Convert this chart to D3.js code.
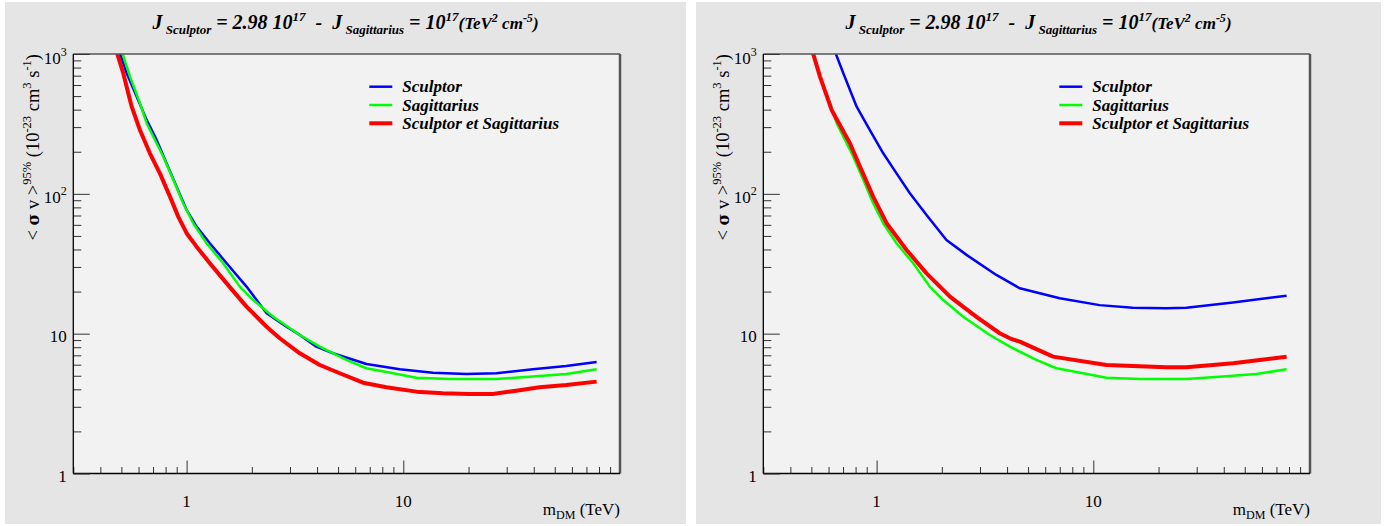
<!DOCTYPE html>
<html><head><meta charset="utf-8">
<script src="https://cdn.jsdelivr.net/npm/d3@7"></script>
<style>body{margin:0;background:#fff}svg{display:block}</style>
</head><body>
<script>
// ---------------- data ----------------
// Left panel
const sculptorMassA  = [0.493,0.529,0.588,0.654,0.727,0.809,0.899,1.0,1.112,1.28,1.53,1.89,2.34,2.89,3.33,3.97,4.74,6.76,9.63,13.7,19.5,26.9,39.6,56.5,78];
const sculptorSigmaA = [1000,729,496,338,243,165,112.6,76.7,58.3,44.3,31.9,21.7,14.0,11.2,9.8,8.07,7.24,6.07,5.56,5.26,5.15,5.21,5.56,5.87,6.28];
const combinedMassA  = [0.479,0.510,0.558,0.609,0.677,0.753,0.838,0.915,1.0,1.112,1.28,1.53,1.89,2.34,2.69,3.33,4.12,5.09,6.52,8.36,11.5,15.2,20.2,25.9,33.2,42.5,56.5,78];
const combinedSigmaA = [1000,729,420,286,195,140,95.5,68.7,52.3,41.9,31.9,22.9,15.6,11.2,9.27,7.24,5.97,5.21,4.46,4.14,3.85,3.75,3.70,3.70,3.91,4.14,4.30,4.54];
// Sagittarius curve (same in both panels)
const sagittariusMass  = [0.507,0.548,0.609,0.654,0.727,0.780,0.868,0.964,1.073,1.236,1.475,1.76,2.03,2.51,3.33,4.12,5.46,6.76,8.97,11.5,16.4,26.9,39.6,56.5,78];
const sagittariusSigma = [1000,689,445,320,230,185,126,85.7,61.6,44.3,31.9,21.7,17.4,13.2,9.79,8.07,6.49,5.66,5.21,4.84,4.74,4.74,4.93,5.15,5.56];
// Right panel
const sculptorMassB  = [0.649,0.702,0.809,0.931,1.073,1.236,1.424,1.70,2.10,2.60,3.57,4.58,7.0,10.7,15.2,21.7,26.9,44.1,78];
const sculptorSigmaB = [1000,729,420,286,195,140,101,70.6,46.8,36.6,26.3,21.1,17.9,16.0,15.35,15.2,15.35,16.7,18.7];
const combinedMassB  = [0.510,0.548,0.620,0.753,0.838,0.964,1.112,1.375,1.70,2.18,2.89,3.70,4.12,4.58,6.52,11.5,21.7,26.9,44.1,78];
const combinedSigmaB = [1000,689,398,230,156.5,95.5,61.6,39.7,27.0,18.4,13.2,10.07,9.27,8.77,6.85,5.97,5.75,5.75,6.14,6.85];

const xDomain = [0.3, 100];
const yDomain = [1, 1000];
const xTickValues = [1, 10];
const xTickLabels = ["1", "10"];
const yTickValues = [1, 10, 100, 1000];
const yTickBases = ["1", "10", "10", "10"];
const yTickExps  = ["", "", "2", "3"];
const legendLabels = ["Sculptor", "Sagittarius", "Sculptor et Sagittarius"];
const seriesColors = ["#0000ff", "#00ff00", "#ff0000"];
const seriesWidths = [2.5, 2.5, 4];

// ---------------- drawing ----------------
const W = 1392, H = 526;
const svg = d3.select("body").append("svg")
  .attr("width", W).attr("height", H)
  .style("font-family", "'Liberation Serif','Times New Roman',serif");

const panels = [
  {padX: 5,   padW: 681, L: 73.3,  R: 620,  id: "a",
   series: [[sculptorMassA, sculptorSigmaA], [sagittariusMass, sagittariusSigma], [combinedMassA, combinedSigmaA]]},
  {padX: 696, padW: 685, L: 763.3, R: 1310, id: "b",
   series: [[sculptorMassB, sculptorSigmaB], [sagittariusMass, sagittariusSigma], [combinedMassB, combinedSigmaB]]}
];
const T = 54, B = 473.5;

function minorTicks(lo, hi) {
  const out = [];
  for (let d = -1; d <= 2; d++) for (let k = 2; k <= 9; k++) {
    const v = k * Math.pow(10, d);
    if (v > lo && v < hi) out.push(v);
  }
  return out;
}

panels.forEach(p => {
  const g = svg.append("g");
  g.append("rect").attr("x", p.padX).attr("y", 2).attr("width", p.padW).attr("height", 522).attr("fill", "#e5e5e5");
  g.append("rect").attr("x", p.L).attr("y", T).attr("width", p.R - p.L).attr("height", B - T).attr("fill", "#f2f2f2");

  const x = d3.scaleLog().domain(xDomain).range([p.L, p.R]);
  const y = d3.scaleLog().domain(yDomain).range([B, T]);

  // curves
  const clipId = "clip-" + p.id;
  g.append("clipPath").attr("id", clipId).append("rect")
    .attr("x", p.L).attr("y", T).attr("width", p.R - p.L).attr("height", B - T);
  const line = d3.line().x(d => x(d[0])).y(d => y(d[1]));
  p.series.forEach((s, i) => {
    const pts = s[0].map((m, j) => [m, s[1][j]]);
    g.append("path").attr("clip-path", `url(#${clipId})`)
      .attr("d", line(pts)).attr("fill", "none")
      .attr("stroke", seriesColors[i]).attr("stroke-width", seriesWidths[i])
      .attr("stroke-linejoin", "round");
  });

  // frame borders (top / right)
  g.append("line").attr("x1", p.L).attr("x2", p.R).attr("y1", T).attr("y2", T).attr("stroke", "#555").attr("stroke-width", 1.5);
  g.append("line").attr("x1", p.R).attr("x2", p.R).attr("y1", T).attr("y2", B).attr("stroke", "#555").attr("stroke-width", 2.5);

  // x axis ticks
  const xMajor = g.append("g").attr("transform", `translate(0,${B})`)
    .call(d3.axisBottom(x).tickValues(xTickValues).tickSizeInner(-13).tickSizeOuter(0).tickFormat(""));
  const xMinor = g.append("g").attr("transform", `translate(0,${B})`)
    .call(d3.axisBottom(x).tickValues(minorTicks(0.3, 100)).tickSizeInner(-6.5).tickSizeOuter(0).tickFormat(""));
  [xMajor, xMinor].forEach(a => { a.select(".domain").remove(); a.selectAll("line").attr("stroke", "#333"); });
  g.append("line").attr("x1", p.L).attr("x2", p.R).attr("y1", B).attr("y2", B).attr("stroke", "#000").attr("stroke-width", 1.3);

  // y axis ticks
  const yMajor = g.append("g").attr("transform", `translate(${p.L},0)`)
    .call(d3.axisLeft(y).tickValues(yTickValues).tickSizeInner(-16.5).tickSizeOuter(0).tickFormat(""));
  const yMinor = g.append("g").attr("transform", `translate(${p.L},0)`)
    .call(d3.axisLeft(y).tickValues(minorTicks(1, 1000)).tickSizeInner(-8).tickSizeOuter(0).tickFormat(""));
  [yMajor, yMinor].forEach(a => { a.select(".domain").remove(); a.selectAll("line").attr("stroke", "#333"); });
  g.append("line").attr("x1", p.L).attr("x2", p.L).attr("y1", T).attr("y2", B).attr("stroke", "#000").attr("stroke-width", 1.3);

  // x tick labels
  xTickValues.forEach((v, i) => {
    g.append("text").attr("x", x(v)).attr("y", 507).attr("text-anchor", "middle")
      .attr("font-size", 17).text(xTickLabels[i]);
  });
  // y tick labels
  yTickValues.forEach((v, i) => {
    const t = g.append("text").attr("x", p.L - 6.5).attr("y", y(v) + (yTickExps[i] ? 9.5 : 8.5))
      .attr("text-anchor", "end").attr("font-size", 17);
    t.append("tspan").text(yTickBases[i]);
    if (yTickExps[i]) t.append("tspan").attr("font-size", 12).attr("dy", -8).text(yTickExps[i]);
  });

  // x axis title
  const xt = g.append("text").attr("x", p.R).attr("y", 515).attr("text-anchor", "end").attr("font-size", 17);
  xt.append("tspan").text("m");
  xt.append("tspan").attr("font-size", 12).attr("dy", 4).text("DM");
  xt.append("tspan").attr("dy", -4).text(" (TeV)");

  // y axis title
  const yt = g.append("text").attr("transform", `translate(${p.L - 34},${T}) rotate(-90)`)
    .attr("text-anchor", "end").attr("font-size", 18.5);
  yt.append("tspan").text("< ");
  yt.append("tspan").attr("font-weight", "bold").attr("font-family", "'DejaVu Serif',serif").attr("font-size", 16).text("σ");
  yt.append("tspan").text(" v >");
  yt.append("tspan").attr("font-size", 12.5).attr("dy", -8).text("95%");
  yt.append("tspan").attr("dy", 8).text(" (10");
  yt.append("tspan").attr("font-size", 12.5).attr("dy", -8).text("-23");
  yt.append("tspan").attr("dy", 8).text(" cm");
  yt.append("tspan").attr("font-size", 12.5).attr("dy", -8).text("3");
  yt.append("tspan").attr("dy", 8).text(" s");
  yt.append("tspan").attr("font-size", 12.5).attr("dy", -8).text("-1");
  yt.append("tspan").attr("dy", 8).text(")");

  // title
  const cx = p.padX + p.padW / 2;
  const tt = g.append("text").attr("x", cx).attr("y", 29).attr("text-anchor", "middle")
    .attr("font-size", 20).attr("font-weight", "bold").attr("font-style", "italic")
    .attr("xml:space", "preserve").style("white-space", "pre");
  tt.append("tspan").text("J");
  tt.append("tspan").attr("font-size", 13).attr("dy", 5).text(" Sculptor");
  tt.append("tspan").attr("dy", -5).text(" = 2.98 10");
  tt.append("tspan").attr("font-size", 13).attr("dy", -8).text("17");
  tt.append("tspan").attr("dy", 8).text("  -  J");
  tt.append("tspan").attr("font-size", 13).attr("dy", 5).text(" Sagittarius");
  tt.append("tspan").attr("dy", -5).text(" = 10");
  tt.append("tspan").attr("font-size", 13).attr("dy", -8).text("17");
  tt.append("tspan").attr("dy", 8).attr("font-size", 17).text("(TeV");
  tt.append("tspan").attr("font-size", 12).attr("dy", -7).text("2");
  tt.append("tspan").attr("font-size", 17).attr("dy", 7).text(" cm");
  tt.append("tspan").attr("font-size", 12).attr("dy", -7).text("-5");
  tt.append("tspan").attr("font-size", 17).attr("dy", 7).text(")");

  // legend
  const lx = p.L + 296, ly0 = 86.7, dy = 18.3;
  legendLabels.forEach((lab, i) => {
    const yy = ly0 + i * dy;
    g.append("line").attr("x1", lx).attr("x2", lx + 23).attr("y1", yy).attr("y2", yy)
      .attr("stroke", seriesColors[i]).attr("stroke-width", seriesWidths[i]);
    g.append("text").attr("x", lx + 33).attr("y", yy + 5.5).attr("font-size", 17)
      .attr("font-weight", "bold").attr("font-style", "italic").text(lab);
  });
});
</script>
</body></html>
